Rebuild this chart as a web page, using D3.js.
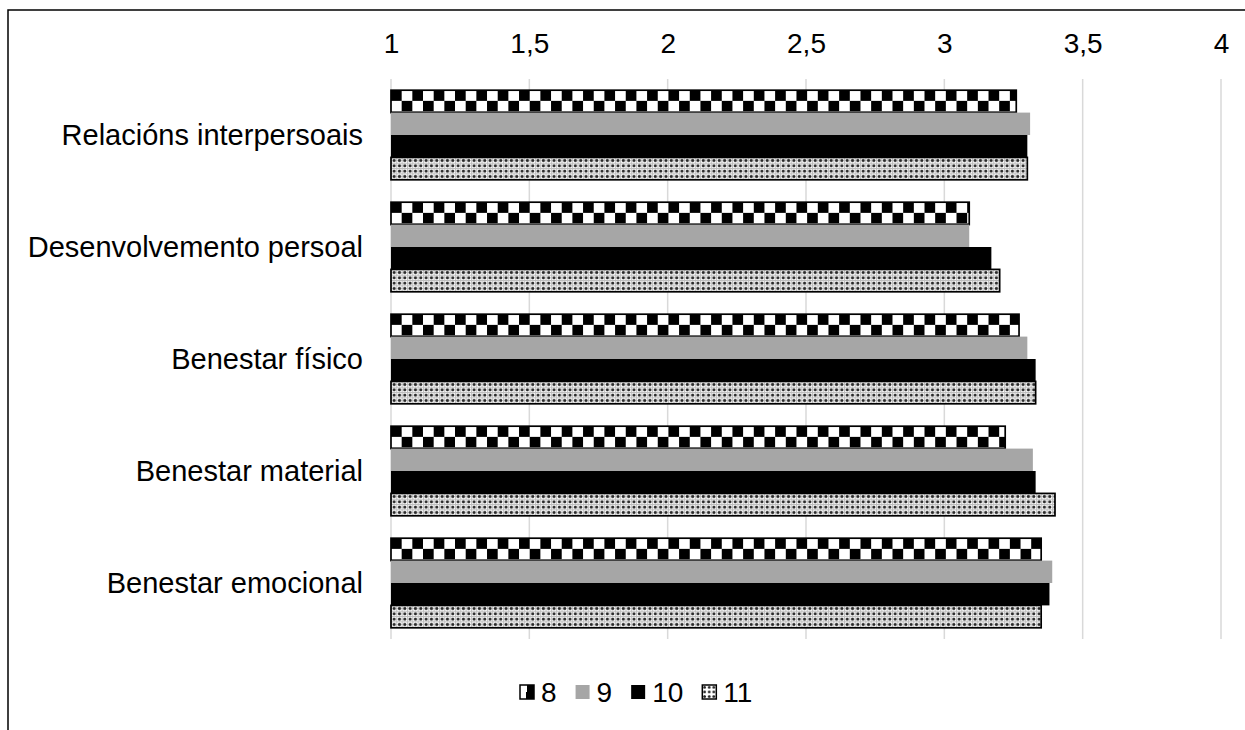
<!DOCTYPE html>
<html lang="gl">
<head>
    <meta charset="utf-8">
    <title>Calidade de vida por idade</title>
    <script src="https://d3js.org/d3.v7.min.js" charset="utf-8"></script>
    <style>
        body { margin: 0; background: #fff; }
        text { font-family: "Liberation Sans", Arial, sans-serif; fill: #000; }
    </style>
</head>
<body>
<script>

    var categories = ["Relacións interpersoais", "Desenvolvemento persoal", "Benestar físico", "Benestar material", "Benestar emocional"]
    var series = ["8", "9", "10", "11"]
    var ticks = [1, 1.5, 2, 2.5, 3, 3.5, 4]

    // values per series, same order as categories
    var s8  = [3.26, 3.09, 3.27, 3.22, 3.35]
    var s9  = [3.31, 3.09, 3.30, 3.32, 3.39]
    var s10 = [3.30, 3.17, 3.33, 3.33, 3.38]
    var s11 = [3.30, 3.20, 3.33, 3.40, 3.35]
    var values = [s8, s9, s10, s11]

    var w = 1245, h = 730
    var plotLeft = 391, plotRight = 1221, plotTop = 79, plotBottom = 639

    var svg = d3.select("body").append("svg").attr("width", w).attr("height", h)

    // patterns
    var defs = svg.append("defs")
    var cell = 10.67
    var chk = defs.append("pattern").attr("id", "checker").attr("patternUnits", "userSpaceOnUse")
        .attr("width", cell * 2).attr("height", cell * 2)
    chk.append("rect").attr("width", cell * 2).attr("height", cell * 2).attr("fill", "#fff")
    chk.append("rect").attr("x", 0).attr("y", 0).attr("width", cell).attr("height", cell).attr("fill", "#000")
    chk.append("rect").attr("x", cell).attr("y", cell).attr("width", cell).attr("height", cell).attr("fill", "#000")

    var dp = 5.33
    var dot = defs.append("pattern").attr("id", "dots").attr("patternUnits", "userSpaceOnUse")
        .attr("width", dp).attr("height", dp)
    dot.append("rect").attr("width", dp).attr("height", dp).attr("fill", "#fff")
    dot.append("rect").attr("x", 0).attr("y", 0).attr("width", dp).attr("height", 1).attr("fill", "#bdbdbd")
    dot.append("rect").attr("x", 0).attr("y", 0).attr("width", 1).attr("height", dp).attr("fill", "#bdbdbd")
    dot.append("circle").attr("cx", dp / 2 + 0.5).attr("cy", dp / 2 + 0.5).attr("r", 1.6).attr("fill", "#2a2a2a")

    var smallDot = defs.append("pattern").attr("id", "dotsSmall").attr("patternUnits", "userSpaceOnUse")
        .attr("width", 4.6).attr("height", 4.6)
    smallDot.append("rect").attr("width", 4.6).attr("height", 4.6).attr("fill", "#fff")
    smallDot.append("circle").attr("cx", 2.3).attr("cy", 2.3).attr("r", 1.4).attr("fill", "#222")

    var fills = ["url(#checker)", "#a6a6a6", "#000", "url(#dots)"]
    var strokes = ["#000", "none", "none", "#000"]

    var x = d3.scaleLinear().domain([1, 4]).range([plotLeft, plotRight])
    var y = d3.scaleBand().domain(categories).range([plotTop, plotBottom]).paddingInner(0.2).paddingOuter(0.1)
    var ys = d3.scaleBand().domain(series).range([0, y.bandwidth()])

    // outer frame (only top and left edges visible)
    svg.append("path").attr("d", "M8,731 L8,10 L1246,10").attr("fill", "none").attr("stroke", "#000").attr("stroke-width", 1.5)

    // grid
    svg.append("g").selectAll("line").data(ticks).enter().append("line")
        .attr("x1", function(d) { return x(d) }).attr("x2", function(d) { return x(d) })
        .attr("y1", plotTop).attr("y2", plotBottom)
        .attr("stroke", "#d9d9d9").attr("stroke-width", 1.5)

    // top axis labels
    var xAxis = d3.axisTop(x).tickValues(ticks).tickSize(0).tickPadding(0)
        .tickFormat(function(d) { return String(d).replace(".", ",") })
    var ax = svg.append("g").attr("transform", "translate(0,53)").call(xAxis)
    ax.select(".domain").remove()
    ax.selectAll("text").attr("font-size", 28).attr("font-family", "Liberation Sans, Arial, sans-serif").attr("fill", "#000").attr("dy", 0)

    // bars
    var groups = svg.append("g").selectAll("g").data(categories).enter().append("g")
        .attr("transform", function(d) { return "translate(0," + y(d) + ")" })

    groups.each(function(cat, ci) {
        var g = d3.select(this)
        series.forEach(function(s, si) {
            var v = values[si][ci]
            var bar = g.append("g").attr("transform", "translate(" + x(1) + "," + ys(s) + ")")
            bar.append("rect")
                .attr("x", 0).attr("y", 0)
                .attr("width", x(v) - x(1)).attr("height", ys.bandwidth())
                .attr("fill", fills[si])
                .attr("stroke", strokes[si]).attr("stroke-width", 1.7)
        })
    })

    // category labels
    svg.append("g").selectAll("text").data(categories).enter().append("text")
        .attr("x", 363).attr("y", function(d) { return y(d) + y.bandwidth() / 2 })
        .attr("dy", "0.35em").attr("text-anchor", "end").attr("font-size", 29)
        .text(function(d) { return d })

    // legend
    var legend = svg.append("g")
    var lx = 520, ly = 692, sw = 14
    series.forEach(function(s, i) {
        var item = legend.append("g").attr("transform", "translate(" + lx + "," + (ly - sw / 2) + ")")
        if (i == 0) {
            item.append("rect").attr("width", sw).attr("height", sw).attr("fill", "#fff").attr("stroke", "#000").attr("stroke-width", 1.5)
            item.append("rect").attr("x", sw / 2).attr("y", 0).attr("width", sw / 2).attr("height", sw / 2).attr("fill", "#000")
            item.append("rect").attr("x", sw / 2 - 1).attr("y", sw / 2).attr("width", sw / 2 + 1).attr("height", sw / 2).attr("fill", "#000")
        } else if (i == 3) {
            item.append("rect").attr("width", sw).attr("height", sw).attr("fill", "url(#dotsSmall)").attr("stroke", "#000").attr("stroke-width", 1.5)
        } else {
            item.append("rect").attr("width", sw).attr("height", sw).attr("fill", fills[i])
        }
        var t = legend.append("text").attr("x", lx + sw + 7).attr("y", ly).attr("dy", "0.35em")
            .attr("font-size", 28).text(s)
        lx += sw + 7 + t.node().getComputedTextLength() + 19
    })

</script>
</body>
</html>
